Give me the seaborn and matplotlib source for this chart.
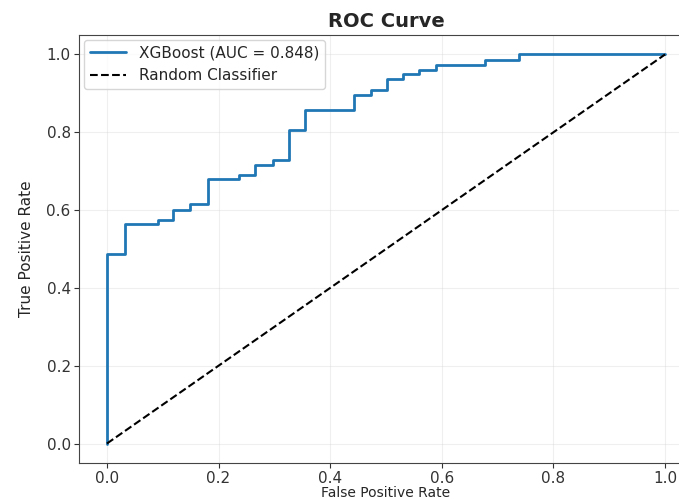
import matplotlib
matplotlib.use("Agg")
import matplotlib.pyplot as plt
import seaborn as sns
import pandas as pd

fpr = [0.0, 0.0, 0.032, 0.032, 0.091, 0.091, 0.119, 0.119, 0.149, 0.149, 0.181, 0.181,
       0.236, 0.236, 0.266, 0.266, 0.297, 0.297, 0.327, 0.327, 0.354, 0.354, 0.443, 0.443,
       0.473, 0.473, 0.501, 0.501, 0.530, 0.530, 0.560, 0.560, 0.590, 0.590, 0.677, 0.677,
       0.738, 0.738, 1.0]
tpr = [0.0, 0.487, 0.487, 0.564, 0.564, 0.575, 0.575, 0.600, 0.600, 0.615, 0.615, 0.679,
       0.679, 0.690, 0.690, 0.716, 0.716, 0.728, 0.728, 0.807, 0.807, 0.858, 0.858, 0.897,
       0.897, 0.908, 0.908, 0.936, 0.936, 0.950, 0.950, 0.959, 0.959, 0.973, 0.973, 0.987,
       0.987, 1.0, 1.0]
diag_x = [0.0, 1.0]
diag_y = [0.0, 1.0]
auc_value = 0.848

sns.set_style("ticks")
plt.rcParams['font.family'] = ['DejaVu Sans']

fig = plt.figure(figsize=(6.79, 4.99), dpi=100)
ax = fig.add_axes([79/679, (499-463)/499, 614/679, 428/499])

roc_df = pd.DataFrame({"fpr": fpr, "tpr": tpr})
sns.lineplot(data=roc_df, x="fpr", y="tpr", sort=False, estimator=None, ax=ax,
             color="#1f77b4", linewidth=2, label=f"XGBoost (AUC = {auc_value:.3f})")
diag_df = pd.DataFrame({"x": diag_x, "y": diag_y})
sns.lineplot(data=diag_df, x="x", y="y", sort=False, estimator=None, ax=ax,
             color="black", linestyle="--", linewidth=1.5, label="Random Classifier")

ax.set_xlim(-0.05, 1.05)
ax.set_ylim(-0.05, 1.05)
ax.set_xticks([0.0, 0.2, 0.4, 0.6, 0.8, 1.0])
ax.set_yticks([0.0, 0.2, 0.4, 0.6, 0.8, 1.0])
ax.grid(True, alpha=0.3)
ax.set_xlabel("False Positive Rate", fontsize=10, labelpad=0)
ax.set_ylabel("True Positive Rate", fontsize=11, labelpad=9)
ax.set_title("ROC Curve", fontsize=14, fontweight="bold", pad=6)
ax.tick_params(labelsize=11, colors="#333333", pad=2.5)
ax.spines["right"].set_visible(False)
for s in ax.spines.values():
    s.set_color("#444444")
ax.legend(loc="upper left", fontsize=11, borderaxespad=0.3, handlelength=2.4)

fig.savefig("out.png", dpi=100)
